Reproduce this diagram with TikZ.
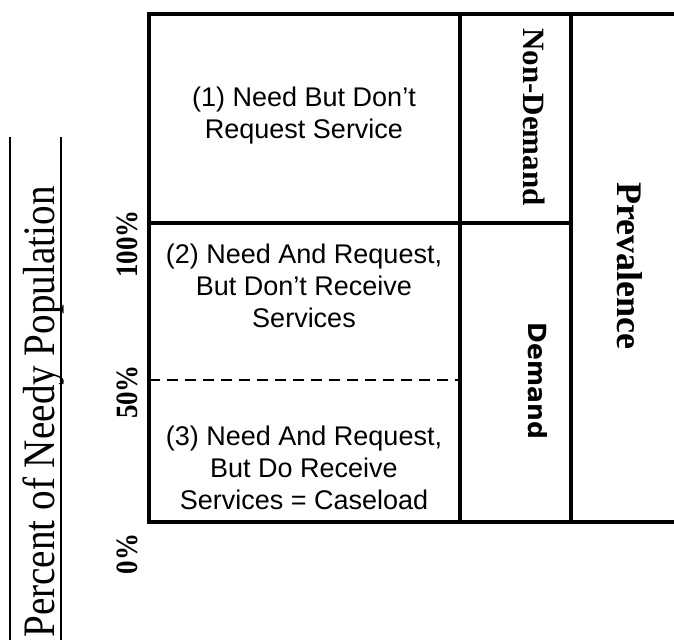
\documentclass[tikz,border=0pt]{standalone}
\usepackage{fontspec}
\usepackage{graphicx}
\newfontfamily\cellfont{Liberation Sans}
\newfontfamily\serifface{Liberation Serif}
\newfontfamily\demandface{DejaVu Sans}
\newcommand{\narrowed}[1]{\scalebox{0.87}[1]{#1}}
\begin{document}
\begin{tikzpicture}[x=1pt,y=-1pt,
  frameline/.style={line width=4pt},
  axisline/.style={line width=2pt},
  cutline/.style={line width=2.6pt, dash pattern=on 11pt off 7pt},
  cell/.style={inner sep=0pt, align=center, anchor=base,
    font=\cellfont\fontsize{27}{32}\selectfont},
  pct/.style={inner sep=0pt, anchor=base, rotate=90,
    font=\serifface\bfseries\fontsize{31}{31}\selectfont},
  sidelabel/.style={inner sep=0pt, anchor=base, rotate=-90},
]
\useasboundingbox (0,0) rectangle (674,640);

% frame of the population bar and the two side columns
\draw[frameline] (674,14) -- (149,14) -- (149,522) -- (674,522);
\draw[frameline] (459.5,14) -- (459.5,522);
\draw[frameline] (571,14) -- (571,522);
\draw[frameline] (149,222.5) -- (571,222.5);
\draw[cutline] (149,380) -- (459.5,380);

% rules beside the axis title
\draw[axisline] (10,137) -- (10,640);
\draw[axisline] (61,137) -- (61,640);

% axis title and percentages
\node[inner sep=0pt, anchor=base, rotate=90,
  font=\serifface\fontsize{45}{45}\selectfont] (axisTitle) at (54,412)
  {\narrowed{Percent of Needy Population}};
\node[pct] (p100) at (137,244) {\narrowed{100\%}};
\node[pct] (p50) at (137,392) {\narrowed{50\%}};
\node[pct] (p0) at (137,554) {\narrowed{0\%}};

% cell texts (anchored on the baseline of their last line)
\node[cell] (cellOne) at (304,138) {(1) Need But Don’t\\Request Service};
\node[cell] (cellTwo) at (304,327) {(2) Need And Request,\\But Don’t Receive\\Services};
\node[cell] (cellThree) at (304,509) {(3) Need And Request,\\But Do Receive\\Services = Caseload};

% column labels
\node[sidelabel, font=\serifface\bfseries\fontsize{31}{31}\selectfont] (nonDemand) at (523,117) {Non-Demand};
\node[sidelabel, font=\demandface\bfseries\fontsize{25}{25}\selectfont] (demand) at (528,381) {Demand};
\node[sidelabel, font=\serifface\bfseries\fontsize{36}{36}\selectfont] (prevalence) at (617,266) {Prevalence};
\end{tikzpicture}
\end{document}
